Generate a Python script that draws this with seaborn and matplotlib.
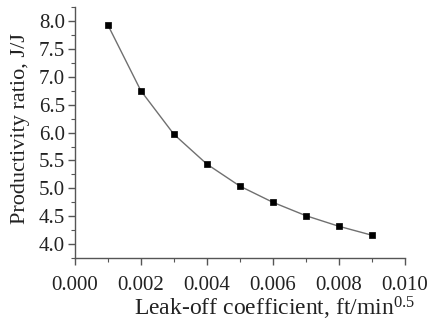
import matplotlib
matplotlib.use("Agg")
import matplotlib.pyplot as plt
import seaborn as sns
import pandas as pd
from matplotlib.ticker import MultipleLocator, FormatStrFormatter

leakoff = [0.001, 0.002, 0.003, 0.004, 0.005, 0.006, 0.007, 0.008, 0.009]
ratio = [7.93, 6.75, 5.97, 5.435, 5.04, 4.75, 4.51, 4.32, 4.16]

df = pd.DataFrame({"x": leakoff, "y": ratio})

sns.set_theme(style="ticks")
plt.rcParams['font.family'] = ['Liberation Serif', 'DejaVu Serif']
plt.rcParams['mathtext.fontset'] = 'custom'
plt.rcParams['mathtext.rm'] = 'Liberation Serif'
plt.rcParams['mathtext.it'] = 'Liberation Serif:italic'

fig = plt.figure(figsize=(4.43, 3.23), dpi=100)
ax = fig.add_axes([0.169, 0.201, 0.745, 0.777])

sns.lineplot(data=df, x="x", y="y", ax=ax, color="#707070", linewidth=1.0)
sns.scatterplot(data=df, x="x", y="y", ax=ax, marker="s", color="black", s=24,
                edgecolor="black", linewidth=0.5, zorder=3)

ax.set_xlim(0.0, 0.010)
ax.set_ylim(3.75, 8.25)
ax.xaxis.set_major_locator(MultipleLocator(0.002))
ax.xaxis.set_minor_locator(MultipleLocator(0.001))
ax.yaxis.set_major_locator(MultipleLocator(0.5))
ax.yaxis.set_minor_locator(MultipleLocator(0.25))
ax.xaxis.set_major_formatter(FormatStrFormatter("%.3f"))
ax.yaxis.set_major_formatter(FormatStrFormatter("%.1f"))

for s in ["top", "right"]:
    ax.spines[s].set_visible(False)
for s in ["left", "bottom"]:
    ax.spines[s].set_color("#555555")
    ax.spines[s].set_linewidth(1.0)

ax.tick_params(axis="both", which="major", direction="out", length=5, width=1.0,
               color="#555555", labelsize=15, labelcolor="#222222", pad=2)
ax.tick_params(axis="x", which="major", pad=8)
ax.tick_params(axis="both", which="minor", direction="out", length=3, width=0.8,
               color="#555555")

ax.set_xlabel(r"Leak-off coefficient, ft/min$^{\mathrm{0.5}}$", fontsize=17, color="#222222")
ax.set_ylabel("Productivity ratio, J/J", fontsize=16, color="#222222")
ax.xaxis.label.set_va("baseline")
ax.yaxis.label.set_va("baseline")
ax.xaxis.set_label_coords(0.605, -0.227)
ax.yaxis.set_label_coords(-0.152, 0.518)

fig.savefig("out.png", dpi=100)
